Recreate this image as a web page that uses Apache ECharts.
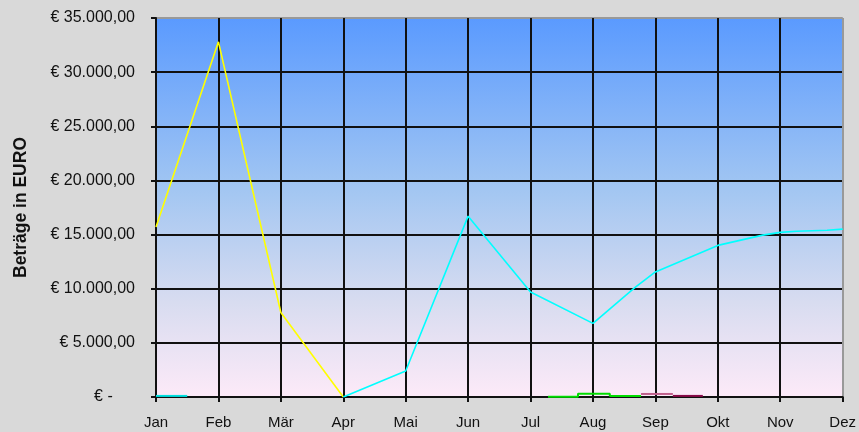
<!DOCTYPE html>
<html>
<head>
<meta charset="utf-8">
<script src="https://cdn.jsdelivr.net/npm/echarts@6/dist/echarts.min.js"></script>
<style>
html,body{margin:0;padding:0;background:#d8d8d8;}
#chart{width:859px;height:432px;}
</style>
</head>
<body>
<div id="chart"></div>
<script>
// Month labels (x axis)
const months = ['Jan','Feb','Mär','Apr','Mai','Jun','Jul','Aug','Sep','Okt','Nov','Dez'];
// Series values: [month position, Euro]
const seriesYellow = [[0,15700],[1,32800],[2,7800],[3,0]];
const seriesCyan = [[3,0],[4,2400],[5,16700],[6,9700],[7,6800],[7.67,10100],[8,11550],[9,14000],[9.72,14950],[10,15200],[10.26,15300],[10.75,15400],[11,15500]];
const seriesCyanJan = [[0,100],[0.5,100]];
const seriesGreen = [[6.28,30],[6.76,300],[7.27,100],[7.77,100]];
const seriesPink = [[7.77,280],[8.28,280]];
const seriesDarkRed = [[8.28,100],[8.76,100]];
// Y axis ticks
const yMax = 35000, yStep = 5000;

function fmtEuro(v){
  if (v === 0) return '€ -     ';
  const s = String(Math.round(v));
  const withDots = s.replace(/\B(?=(\d{3})+(?!\d))/g, '.');
  return '€ ' + withDots + ',00';
}

const chart = echarts.init(document.getElementById('chart'), null, {renderer:'canvas'});
const font = 'Liberation Sans, Arial, sans-serif';
const gridColors = Array(11).fill('#111').concat(['#999']);
const hGridColors = Array(7).fill('#111').concat(['#999']);

function line(data, color, extra){
  return Object.assign({
    type:'line', data:data, symbol:'none', smooth:false,
    lineStyle:{color:color, width:1.6}, itemStyle:{color:color}, animation:false
  }, extra||{});
}

chart.setOption({
  backgroundColor:'#d9d9d9',
  animation:false,
  grid:{left:156, right:16, top:18, bottom:35, show:true, borderColor:'#999', borderWidth:1,
    backgroundColor:{type:'linear',x:0,y:0,x2:0,y2:1,colorStops:[
      {offset:0,color:'#5a9aff'},{offset:0.45,color:'#a2c6f2'},{offset:0.75,color:'#d8dcf0'},{offset:1,color:'#fdeaf8'}]}},
  xAxis:{type:'value', min:0, max:months.length-1, interval:1,
    axisLine:{show:true, onZero:false, lineStyle:{color:'#111', width:2}},
    axisTick:{show:true, length:5, lineStyle:{color:'#111', width:2}},
    axisLabel:{formatter:function(v){return months[v]||'';}, color:'#111', fontFamily:font, fontSize:15, margin:18},
    splitLine:{show:true, lineStyle:{color:gridColors, width:2}}
  },
  yAxis:{type:'value', min:0, max:yMax, interval:yStep,
    name:'Beträge in EURO', nameLocation:'middle', nameGap:126,
    nameTextStyle:{fontFamily:font, fontSize:17.5, fontWeight:'bold', color:'#111'},
    axisLine:{show:true, lineStyle:{color:'#111', width:2}},
    axisTick:{show:true, length:5, lineStyle:{color:'#111', width:2}},
    axisLabel:{formatter:fmtEuro, color:'#111', fontFamily:font, fontSize:16, margin:21},
    splitLine:{show:true, lineStyle:{color:hGridColors, width:2}}
  },
  series:[
    line(seriesYellow,'#ffff00'),
    line(seriesCyan,'#00ffff'),
    line(seriesCyanJan,'#00e8e8', {lineStyle:{color:'#00e0e0', width:2}}),
    line(seriesGreen,'#00ee00', {step:'end', lineStyle:{color:'#00dd00', width:2}}),
    line(seriesPink,'#c0608c', {lineStyle:{color:'#c0608c', width:2}}),
    line(seriesDarkRed,'#880a48', {lineStyle:{color:'#880a48', width:2}})
  ]
});
</script>
</body>
</html>
